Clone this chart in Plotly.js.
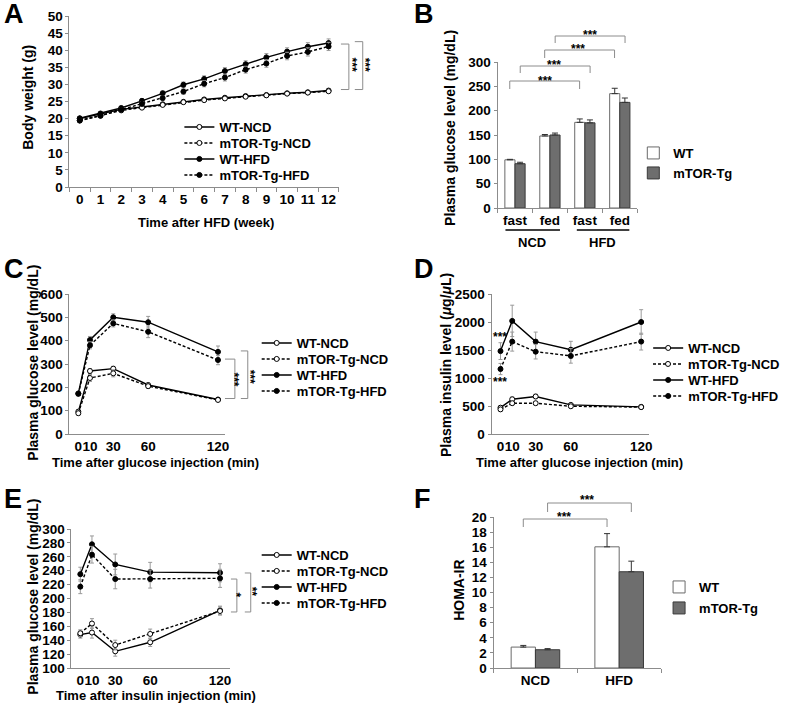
<!DOCTYPE html>
<html><head><meta charset="utf-8">
<script src="https://cdn.plot.ly/plotly-3.0.1.min.js"></script>
<style>html,body{margin:0;padding:0;background:#fff}#chart{width:785px;height:703px}</style>
</head><body><div id="chart"></div>
<script>
// ---------- DATA ----------
const seriesNames = ['WT-NCD', 'mTOR-Tg-NCD', 'WT-HFD', 'mTOR-Tg-HFD'];
const barNames = ['WT', 'mTOR-Tg'];

// A: body weight
const weeks = [0,1,2,3,4,5,6,7,8,9,10,11,12];
const bwWtNCD = [20.0, 21.3, 22.7, 23.4, 24.2, 24.9, 25.6, 26.1, 26.6, 26.9, 27.4, 27.7, 28.2];
const bwTgNCD = [19.5, 20.9, 22.4, 23.2, 24.0, 24.8, 25.4, 25.9, 26.4, 26.8, 27.3, 27.6, 28.0];
const bwWtHFD = [20.1, 21.5, 23.1, 25.2, 27.4, 29.9, 31.6, 33.9, 35.9, 37.9, 39.6, 41.0, 42.1];
const bwTgHFD = [19.4, 20.8, 22.6, 24.3, 26.0, 27.9, 30.2, 32.0, 34.3, 36.1, 38.3, 39.5, 41.1];
const bwErrWtNCD = [0.4, 0.4, 0.4, 0.4, 0.4, 0.4, 0.4, 0.4, 0.4, 0.4, 0.4, 0.4, 0.4];
const bwErrTgNCD = [0.4, 0.4, 0.4, 0.4, 0.4, 0.4, 0.4, 0.4, 0.4, 0.4, 0.4, 0.4, 0.4];
const bwErrWtHFD = [0.4, 0.4, 0.5, 0.6, 0.7, 0.8, 0.9, 1.0, 1.0, 1.1, 1.1, 1.2, 1.2];
const bwErrTgHFD = [0.4, 0.4, 0.5, 0.6, 0.7, 0.8, 0.9, 1.0, 1.0, 1.1, 1.1, 1.2, 1.2];

// B: plasma glucose, fasted / fed
const bCats = ['fast', 'fed', 'fast', 'fed'];
const bGroups = ['NCD', 'HFD'];
const bWt = [99, 148, 176, 235];
const bTg = [91, 150, 175, 217];
const bErrWt = [1, 3, 7, 11];
const bErrTg = [3, 4, 6, 9];

// C: GTT glucose
const times = [0, 10, 30, 60, 120];
const cWtNCD = [96, 270, 280, 210, 148];
const cTgNCD = [89, 240, 260, 205, 146];
const cWtHFD = [174, 403, 500, 479, 352];
const cTgHFD = [172, 380, 474, 438, 317];
const cErrWtNCD = [8, 10, 10, 8, 5];
const cErrTgNCD = [8, 15, 15, 10, 5];
const cErrWtHFD = [8, 15, 15, 25, 25];
const cErrTgHFD = [8, 15, 15, 25, 20];

// D: GTT insulin
const dWtNCD = [470, 620, 670, 520, 485];
const dTgNCD = [440, 550, 550, 495, 480];
const dWtHFD = [1480, 2020, 1650, 1505, 2000];
const dTgHFD = [1160, 1650, 1470, 1395, 1650];
const dErrWtNCD = [30, 40, 40, 20, 20];
const dErrTgNCD = [30, 30, 30, 20, 20];
const dErrWtHFD = [150, 280, 170, 150, 220];
const dErrTgHFD = [100, 170, 130, 130, 150];

// E: ITT glucose
const eWtNCD = [148, 151, 124, 137, 183];
const eTgNCD = [150, 164, 133, 149, 182];
const eWtHFD = [235, 278, 249, 238, 237];
const eTgHFD = [217, 263, 228, 228, 229];
const eErrWtNCD = [5, 8, 7, 6, 6];
const eErrTgNCD = [5, 7, 7, 7, 6];
const eErrWtHFD = [10, 12, 15, 14, 13];
const eErrTgHFD = [10, 12, 14, 13, 13];

// F: HOMA-IR
const fCats = ['NCD', 'HFD'];
const fWt = [2.77, 16.05];
const fTg = [2.42, 12.75];
const fErrWt = [0.22, 1.75];
const fErrTg = [0.15, 1.4];

// ---------- LAYOUT HELPERS ----------
const W = 785, H = 703;
const FAM = 'Liberation Sans, Arial, Helvetica, sans-serif';
const X = p => p / W;
const Y = p => 1 - p / H;
const fnt = (size, extra) => Object.assign({family: FAM, size: size, color: '#000', weight: 'bold'}, extra || {});
const AX = '#8c8c8c';

function axis(extra) {
  return Object.assign({
    showline: true, linecolor: AX, linewidth: 1, showgrid: false, zeroline: false,
    ticks: 'outside', ticklen: 3, tickcolor: AX, tickwidth: 1,
    tickfont: fnt(13.5), fixedrange: true
  }, extra);
}

const traces = [];
const layout = {
  width: W, height: H, margin: {l: 0, r: 0, t: 0, b: 0}, showlegend: true,
  paper_bgcolor: '#fff', plot_bgcolor: 'rgba(0,0,0,0)',
  font: fnt(13), barmode: 'group', bargap: 0.42, bargroupgap: 0,
  annotations: [], shapes: []
};

let legCount = 0;
function newLegend(textX, rowY) {
  legCount += 1;
  const id = legCount === 1 ? 'legend' : 'legend' + legCount;
  layout[id] = {
    x: X(textX - 41), y: Y(rowY), xanchor: 'left', yanchor: 'middle',
    bgcolor: 'rgba(0,0,0,0)', borderwidth: 0, font: fnt(13), itemwidth: 30,
    tracegroupgap: 0, itemclick: false, itemdoubleclick: false, visible: true
  };
  return id;
}

const styles = [
  {solid: true, open: true}, {solid: false, open: true},
  {solid: true, open: false}, {solid: false, open: false}
];

function linePanel(xa, ya, x, ys, errs, legTextX, legRows) {
  ys.forEach((y, i) => {
    const st = styles[i];
    traces.push({
      type: 'scatter', mode: 'lines+markers', name: seriesNames[i], x: x, y: y,
      xaxis: xa, yaxis: ya, legend: newLegend(legTextX, legRows[i]), showlegend: true,
      line: {color: '#000', width: 1.4, dash: st.solid ? 'solid' : '3px,2px'},
      marker: {symbol: 'circle', size: 5, color: st.open ? '#fff' : '#000', line: {color: '#000', width: 1}},
      error_y: {type: 'data', array: errs[i], visible: true, color: '#9a9a9a', thickness: 1, width: 2},
      cliponaxis: false, hoverinfo: 'skip'
    });
  });
}

function barPanel(xa, ya, cats, wt, tg, ewt, etg, legTextX, legRows) {
  const xs = cats.map((c, i) => i);
  [[wt, ewt, '#ffffff', '#6a6a6a'], [tg, etg, '#6e6e6e', '#3a3a3a']].forEach((d, i) => {
    traces.push({
      type: 'bar', name: barNames[i], x: xs, y: d[0], xaxis: xa, yaxis: ya,
      legend: newLegend(legTextX, legRows[i]), showlegend: true,
      marker: {color: d[2], line: {color: d[3], width: 1}},
      error_y: {type: 'data', array: d[1], arrayminus: d[1].map(() => 0), symmetric: false,
                visible: true, color: '#333', thickness: 1, width: 3},
      hoverinfo: 'skip'
    });
  });
}

function ann(text, px, py, size, extra) {
  layout.annotations.push(Object.assign({
    text: text, x: X(px), y: Y(py), xref: 'paper', yref: 'paper',
    showarrow: false, xanchor: 'center', yanchor: 'middle', font: fnt(size)
  }, extra || {}));
}
const STAR_DY = 3.4;
function starsH(text, px, py) { ann(text, px, py + STAR_DY, 12); }
function starsV(text, px, py) {
  // group opacity < 1 makes the browser draw the turned glyphs with grey-scale antialiasing
  ann(text, px - STAR_DY, py, 12, {textangle: 90, opacity: 0.99});
}
function bracketRight(x1, x2, yref, v1, v2) {
  layout.shapes.push({type: 'path', xref: 'paper', yref: yref,
    path: `M${X(x1)},${v1} L${X(x2)},${v1} L${X(x2)},${v2} L${X(x1)},${v2}`,
    line: {color: AX, width: 1}});
}
function bracketTop(xref, a, b, topPx, botPx) {
  layout.shapes.push({type: 'path', xref: xref, yref: 'paper',
    path: `M${a},${Y(botPx)} L${a},${Y(topPx)} L${b},${Y(topPx)} L${b},${Y(botPx)}`,
    line: {color: AX, width: 1}});
}

// ---------- PANEL A ----------
layout.xaxis = axis({domain: [X(70), X(342)], anchor: 'y', range: [-0.5, 12.5],
  tickmode: 'array', tickvals: weeks, ticktext: weeks.map(String), ticks: '', tickangle: 0,
  minor: {tickmode: 'array', tickvals: weeks.map(w => w - 0.5).concat([weeks[weeks.length - 1] + 0.5]),
          ticks: 'outside', ticklen: 4, tickcolor: AX}});
layout.yaxis = axis({domain: [Y(187), Y(16)], anchor: 'x', range: [0, 50], dtick: 5});
linePanel('x', 'y', weeks, [bwWtNCD, bwTgNCD, bwWtHFD, bwTgHFD],
  [bwErrWtNCD, bwErrTgNCD, bwErrWtHFD, bwErrTgHFD], 222, [127, 143, 159, 175]);
ann('Body weight (g)', 28, 97, 14, {textangle: -90});
ann('Time after HFD (week)', 208, 222, 13);
bracketRight(344, 352, 'y', 41.8, 28.5);
bracketRight(358, 366, 'y', 42.5, 28.5);
starsV('***', 359.5, 64.5);
starsV('***', 372, 65);

// ---------- PANEL B ----------
layout.xaxis2 = axis({domain: [X(502), X(643)], anchor: 'y2', range: [-0.5, 3.5],
  tickmode: 'array', tickvals: bCats.map((c, i) => i), ticktext: bCats, ticks: '', tickangle: 0,
  minor: {tickmode: 'array', tickvals: bCats.map((c, i) => i - 0.5).concat([bCats.length - 0.5]),
          ticks: 'outside', ticklen: 4, tickcolor: AX}});
layout.yaxis2 = axis({domain: [Y(208), Y(62)], anchor: 'x2', range: [0, 300], dtick: 50});
barPanel('x2', 'y2', bCats, bWt, bTg, bErrWt, bErrTg, 680, [153, 173]);
ann('Plasma glucose level (mg/dL)', 454, 128, 14, {textangle: -90});
layout.shapes.push({type: 'line', xref: 'paper', yref: 'paper', x0: X(510), x1: X(565), y0: Y(230), y1: Y(230), line: {color: '#000', width: 1.3}});
layout.shapes.push({type: 'line', xref: 'paper', yref: 'paper', x0: X(582), x1: X(635), y0: Y(230), y1: Y(230), line: {color: '#000', width: 1.3}});
ann(bGroups[0], 537, 243, 13);
ann(bGroups[1], 608, 243, 13);
bracketTop('x2', -0.15, 1.85, 81, 89);
bracketTop('x2', 0.15, 2.15, 66, 73);
bracketTop('x2', 0.85, 2.85, 50, 58);
bracketTop('x2', 1.15, 3.15, 36, 43);
starsH('***', 550, 77.5);
starsH('***', 559, 61.5);
starsH('***', 583, 46);
starsH('***', 595, 32);

// ---------- PANEL C ----------
layout.xaxis3 = axis({domain: [X(70), X(227)], anchor: 'y3', range: [-7.7, 126],
  tickmode: 'array', tickvals: times, ticktext: times.map(String), ticks: '', tickangle: 0});
layout.yaxis3 = axis({domain: [Y(434), Y(294)], anchor: 'x3', range: [0, 600], dtick: 100});
linePanel('x3', 'y3', times, [cWtNCD, cTgNCD, cWtHFD, cTgHFD],
  [cErrWtNCD, cErrTgNCD, cErrWtHFD, cErrTgHFD], 300, [343, 359, 375, 391]);
ann('Plasma glucose level (mg/dL)', 33, 363, 14, {textangle: -90});
ann('Time after glucose injection (min)', 157, 462, 13);
bracketRight(227, 237, 'y3', 321, 152);
bracketRight(243, 250, 'y3', 356, 152);
starsV('***', 240.5, 379.5);
starsV('***', 256, 377);

// ---------- PANEL D ----------
layout.xaxis4 = axis({domain: [X(496), X(655)], anchor: 'y4', range: [-7.6, 126.8],
  tickmode: 'array', tickvals: times, ticktext: times.map(String), ticks: '', tickangle: 0});
layout.yaxis4 = axis({domain: [Y(434), Y(294)], anchor: 'x4', range: [0, 2500], dtick: 500});
linePanel('x4', 'y4', times, [dWtNCD, dTgNCD, dWtHFD, dTgHFD],
  [dErrWtNCD, dErrTgNCD, dErrWtHFD, dErrTgHFD], 695, [348, 364, 380, 396]);
ann('Plasma insulin level (<i>μ</i>g/<i>μ</i>L)', 450, 365, 14, {textangle: -90});
ann('Time after glucose injection (min)', 585, 462, 13);
starsH('***', 505, 334);
starsH('***', 505, 379);

// ---------- PANEL E ----------
layout.xaxis5 = axis({domain: [X(72), X(232)], anchor: 'y5', range: [-7.7, 128.5],
  tickmode: 'array', tickvals: times, ticktext: times.map(String), ticks: '', tickangle: 0});
layout.yaxis5 = axis({domain: [Y(668), Y(529)], anchor: 'x5', range: [100, 300], dtick: 20});
linePanel('x5', 'y5', times, [eWtNCD, eTgNCD, eWtHFD, eTgHFD],
  [eErrWtNCD, eErrTgNCD, eErrWtHFD, eErrTgHFD], 300, [555, 571, 587, 603]);
ann('Plasma glucose level (mg/dL)', 33, 597, 14, {textangle: -90});
ann('Time after insulin injection (min)', 157, 695, 13);
bracketRight(233, 239, 'y5', 228, 180.6);
bracketRight(247, 253, 'y5', 236.7, 180.6);
starsV('*', 242, 595);
starsV('**', 258, 592);

// ---------- PANEL F ----------
layout.xaxis6 = axis({domain: [X(498), X(667)], anchor: 'y6', range: [-0.5, 1.5],
  tickmode: 'array', tickvals: fCats.map((c, i) => i), ticktext: fCats, ticks: '', tickangle: 0,
  minor: {tickmode: 'array', tickvals: fCats.map((c, i) => i - 0.5).concat([fCats.length - 0.5]),
          ticks: 'outside', ticklen: 4, tickcolor: AX}});
layout.yaxis6 = axis({domain: [Y(668), Y(517)], anchor: 'x6', range: [0, 20], dtick: 2});
barPanel('x6', 'y6', fCats, fWt, fTg, fErrWt, fErrTg, 706, [587, 608]);
ann('HOMA-IR', 463, 590, 14, {textangle: -90});
bracketTop('x6', -0.145, 0.855, 519, 527);
bracketTop('x6', 0.145, 1.145, 503, 512);
starsH('***', 569, 513.5);
starsH('***', 592, 497);

// ---------- PANEL LETTERS ----------
ann('A', 2, 14, 27, {xanchor: 'left'});
ann('B', 416, 14, 27, {xanchor: 'left'});
ann('C', 2, 269, 27, {xanchor: 'left'});
ann('D', 416, 269, 27, {xanchor: 'left'});
ann('E', 2, 499, 27, {xanchor: 'left'});
ann('F', 416, 499, 27, {xanchor: 'left'});

Plotly.newPlot('chart', traces, layout, {staticPlot: true, displayModeBar: false});
</script></body></html>
